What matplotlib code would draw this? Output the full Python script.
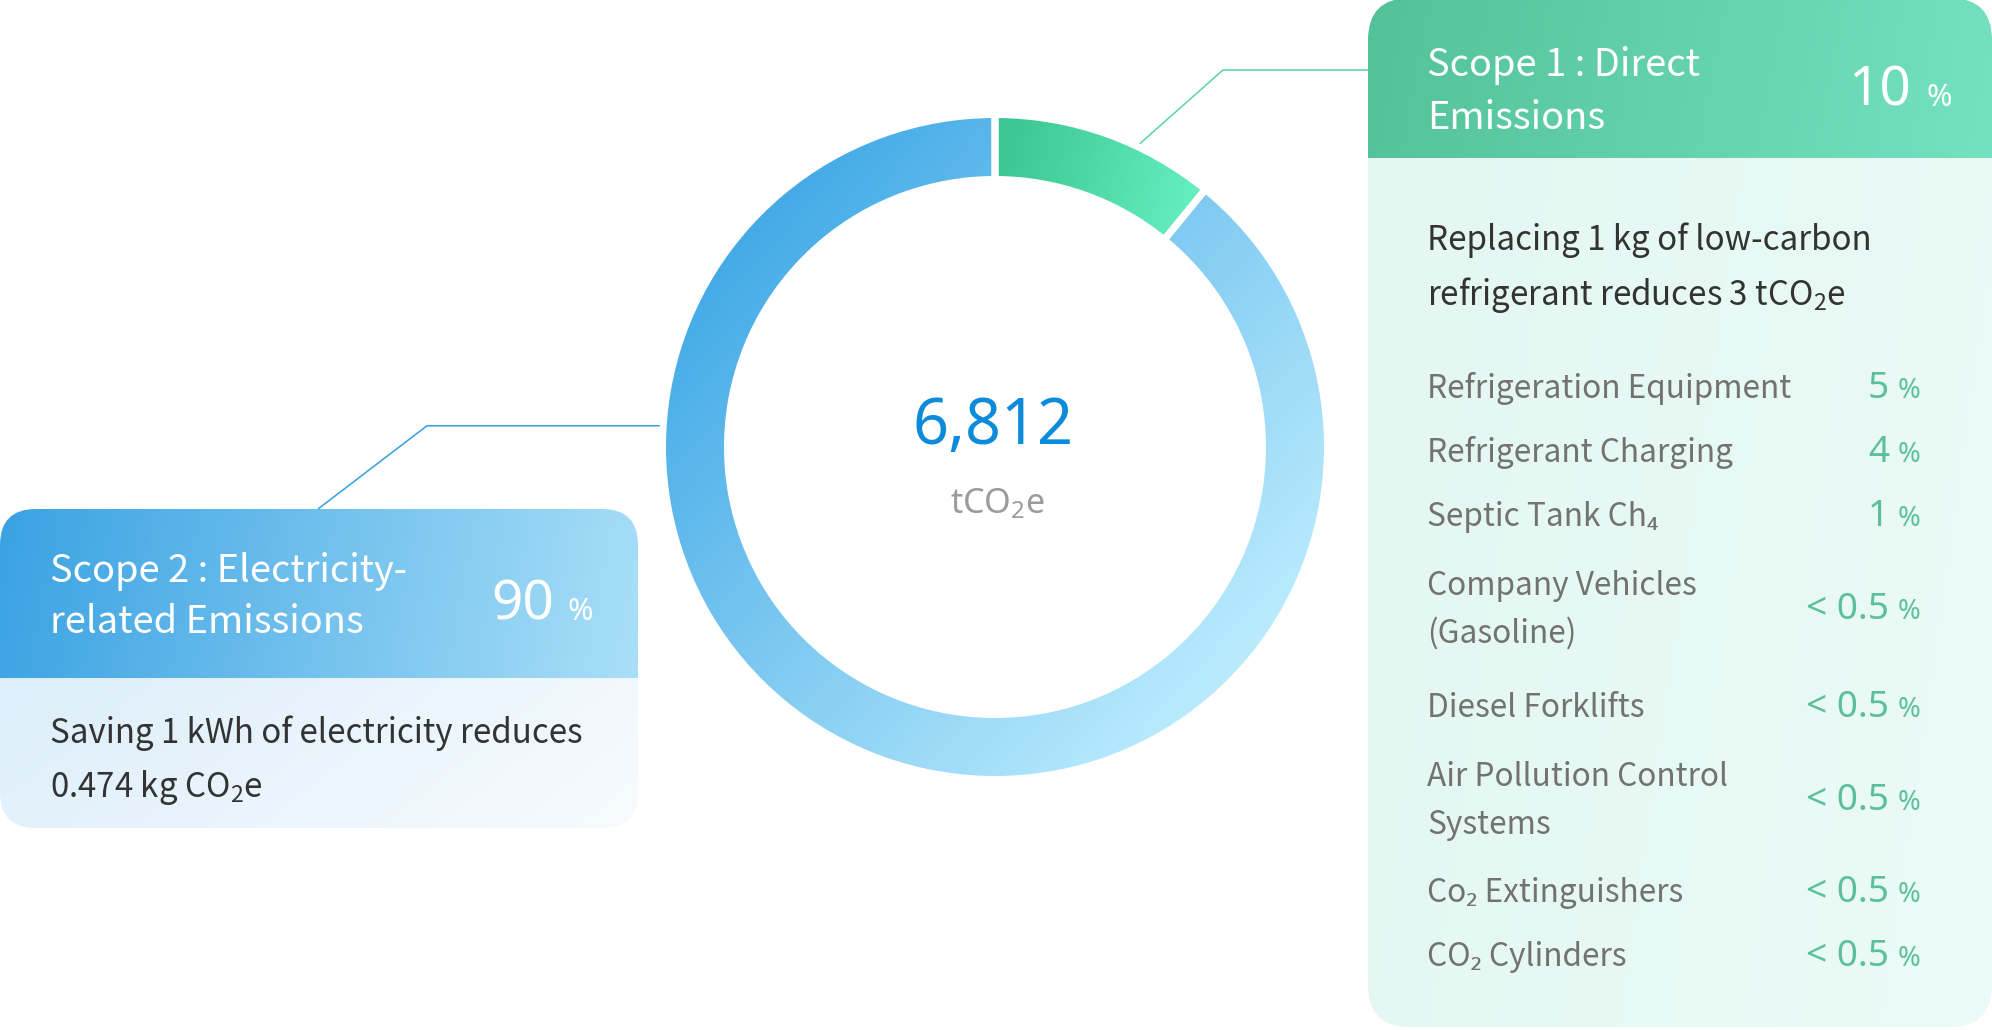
import numpy as np
import matplotlib
matplotlib.use("Agg")
import matplotlib.pyplot as plt
import matplotlib.colors as mcolors
from matplotlib.patches import FancyBboxPatch

# ---------------- data ----------------
ring_labels = ["Scope 1", "Scope 2"]
ring_shares = [10.9, 89.1]          # arc shares read from the ring
scope_titles = ["Scope 1 : Direct\nEmissions", "Scope 2 : Electricity-\nrelated Emissions"]
scope_pct = ["10", "90"]
total_value = "6,812"
total_unit = "tCO$_\\mathregular{2}$e"
scope1_note = ["Replacing 1 kg of low-carbon", "refrigerant reduces 3 tCO$_\\mathregular{2}$e"]
scope2_note = ["Saving 1 kWh of electricity reduces", "0.474 kg CO$_\\mathregular{2}$e"]
item_names = ["Refrigeration Equipment", "Refrigerant Charging", "Septic Tank Ch\u2084",
              "Company Vehicles\n(Gasoline)", "Diesel Forklifts",
              "Air Pollution Control\nSystems", "Co\u2082 Extinguishers", "CO\u2082 Cylinders"]
item_values = ["5", "4", "1", "< 0.5", "< 0.5", "< 0.5", "< 0.5", "< 0.5"]

# ---------------- style ----------------
W, H = 1992, 1030
TXT = ["Noto Sans CJK SC", "Noto Sans", "DejaVu Sans"]
NUM = ["Noto Sans", "DejaVu Sans"]
plt.rcParams["font.family"] = TXT
plt.rcParams["mathtext.fontset"] = "custom"
plt.rcParams["mathtext.rm"] = "Noto Sans CJK SC"
PT = 72 / 100.0  # px -> pt

fig = plt.figure(figsize=(W / 100, H / 100), dpi=100)
fig.patch.set_facecolor("white")
ax = fig.add_axes([0, 0, 1, 1])
ax.set_xlim(0, W)
ax.set_ylim(H, 0)
ax.set_autoscale_on(False)
ax.axis("off")
renderer = fig.canvas.get_renderer()


def fit_size(s, target_px, family, weight="normal", base=20):
    t = ax.text(0, 0, s, fontsize=base, family=family, fontweight=weight)
    w = t.get_window_extent(renderer).width
    t.remove()
    return base * target_px / w


def grad_image(axis, x0, x1, y0, y1, c0, c1, clip, wx=1.0, wy=0.0, z=1):
    cmap = mcolors.LinearSegmentedColormap.from_list("g", [c0, c1])
    u = np.linspace(0, 1, 300)[None, :]
    v = np.linspace(0, 1, 300)[:, None]
    t = wx * u + wy * v
    t = (t - t.min()) / (t.max() - t.min())
    im = axis.imshow(t, cmap=cmap, vmin=0, vmax=1, extent=(x0, x1, y1, y0),
                     origin="upper", aspect="auto", interpolation="bilinear", zorder=z)
    im.set_clip_path(clip)
    return im


def panel(x0, y0, x1, y1, yh, head, body, r, body_dir=(1.0, 0.0)):
    box = FancyBboxPatch((x0, y0), x1 - x0, y1 - y0,
                         boxstyle=f"round,pad=0,rounding_size={r}",
                         fc="none", ec="none", transform=ax.transData)
    ax.add_patch(box)
    grad_image(ax, x0, x1, y0, yh, head[0], head[1], box, 1.0, 0.05)
    grad_image(ax, x0, x1, yh, y1, body[0], body[1], box, body_dir[0], body_dir[1])


# ---------------- panels ----------------
panel(0, 509, 638, 828, 678, ("#3AA2E2", "#A9DFF8"), ("#DCEEFA", "#F7FBFE"), 36, (1.0, 0.3))
panel(1368, -2, 1992, 1027, 158, ("#53C199", "#74E2BF"), ("#E4F7F1", "#EBFBF7"), 42, (1.0, 0.2))

# ---------------- donut ----------------
CX, CY, R, RW = 995, 447, 329, 58
GAP = 7  # px
half = GAP / 2
S = 360
dax = fig.add_axes([(CX - S) / W, (H - CY - S) / H, 2 * S / W, 2 * S / H])
dax.axis("off")
wedges, _ = dax.pie(ring_shares, radius=R + half, startangle=90, counterclock=False,
                    wedgeprops=dict(width=RW + GAP, edgecolor="white",
                                    linewidth=GAP * PT, facecolor="none"))
for w in wedges:
    w.set_zorder(5)

Xg, Yg = np.meshgrid(np.linspace(-S, S, 400), np.linspace(-S, S, 400))
tb = np.clip((1.1 * Xg - Yg) / (2 * 1.49 * R) + 0.5, 0, 1)
cm_blue = mcolors.LinearSegmentedColormap.from_list("b", ["#44ABE7", "#82CBF2", "#BAEBFD"])
imb = dax.imshow(tb, cmap=cm_blue, vmin=0, vmax=1, extent=(-S, S, -S, S), origin="lower",
                 interpolation="bilinear", zorder=2)
imb.set_clip_path(wedges[1])
tg = np.clip((Xg - 0.25 * Yg + 60) / 230, 0, 1)
cm_green = mcolors.LinearSegmentedColormap.from_list("gr", ["#3CC794", "#6CF4C6"])
img = dax.imshow(tg, cmap=cm_green, vmin=0, vmax=1, extent=(-S, S, -S, S), origin="lower",
                 interpolation="bilinear", zorder=2)
img.set_clip_path(wedges[0])
dax.set_xlim(-S, S)
dax.set_ylim(-S, S)
dax.set_aspect("equal")


def ring_point(theta_deg):
    th = np.radians(theta_deg)
    return CX + R * np.sin(th), CY - R * np.cos(th)


gx, gy = ring_point(25)
ax.plot([gx, 1223, 1368], [gy, 70, 70], color="#5FD4AE", lw=1.6 * PT, zorder=3,
        solid_capstyle="butt")
bx, by = ring_point(273.7)
ax.plot([318, 427, bx], [509, by, by], color="#3AA2E0", lw=1.6 * PT, zorder=3,
        solid_capstyle="butt")

# ---------------- sizes fitted to layout widths ----------------
fs_title = 0.5 * (fit_size("Scope 2 : Electricity-", 360, TXT, 500) +
                  fit_size("Scope 1 : Direct", 271, TXT, 500))
fs_note = 0.5 * (fit_size(scope2_note[0], 533, TXT) + fit_size(scope1_note[0], 444, TXT))
fs_item = fit_size(item_names[0], 364, TXT, weight=300)
fs_total = fit_size(total_value, 161, NUM)
fs_unit = fit_size("tCOe", 80, NUM)
fs_big = fit_size("90", 63, NUM, weight=300)
fs_val = fit_size("< 0.5", 83, NUM, weight=300)

# center text
ax.text(993, 444, total_value, family=NUM, fontsize=fs_total,
        color="#0B8BDA", ha="center", va="baseline", zorder=6)
ax.text(997, 513, total_unit, family=NUM, fontsize=fs_unit,
        color="#9B9B9B", ha="center", va="baseline", zorder=6)

# ---------------- left panel text ----------------
t2 = scope_titles[1].split("\n")
ax.text(50, 582, t2[0], fontsize=fs_title, fontweight=500, color="white", va="baseline", zorder=6)
ax.text(50, 633, t2[1], fontsize=fs_title, fontweight=500, color="white", va="baseline", zorder=6)
ax.text(554, 620, scope_pct[1], family=NUM, fontsize=fs_big, fontweight=300, color="white",
        ha="right", va="baseline", zorder=6)
ax.text(593, 620, "%", family=NUM, fontsize=fs_big * 0.56, fontweight=300, color="white",
        ha="right", va="baseline", zorder=6)
ax.text(50, 743, scope2_note[0], fontsize=fs_note, color="#333333", va="baseline", zorder=6)
ax.text(50, 797, scope2_note[1], fontsize=fs_note, color="#333333", va="baseline", zorder=6)

# ---------------- right panel text ----------------
t1 = scope_titles[0].split("\n")
ax.text(1427, 76, t1[0], fontsize=fs_title, fontweight=500, color="white", va="baseline", zorder=6)
ax.text(1427, 129, t1[1], fontsize=fs_title, fontweight=500, color="white", va="baseline", zorder=6)
ax.text(1911, 106, scope_pct[0], family=NUM, fontsize=fs_big, fontweight=300, color="white",
        ha="right", va="baseline", zorder=6)
ax.text(1952, 106, "%", family=NUM, fontsize=fs_big * 0.56, fontweight=300, color="white",
        ha="right", va="baseline", zorder=6)
ax.text(1427, 250, scope1_note[0], fontsize=fs_note, color="#333333", va="baseline", zorder=6)
ax.text(1427, 305, scope1_note[1], fontsize=fs_note, color="#333333", va="baseline", zorder=6)

name_base = [398, 462, 526, 595, 717, 786, 902, 966]
LINE = 48
for name, val, yb in zip(item_names, item_values, name_base):
    lines = name.split("\n")
    for k, ln in enumerate(lines):
        ax.text(1427, yb + k * LINE, ln, fontsize=fs_item, fontweight=300,
                color="#727272", va="baseline", zorder=6)
    yv = yb + (len(lines) - 1) * LINE / 2
    ax.text(1920, yv, "%", family=NUM, fontsize=fs_val * 0.74, fontweight=300, color="#5CBF9C",
            ha="right", va="baseline", zorder=6)
    ax.text(1889, yv, val, family=NUM, fontsize=fs_val, fontweight=300, color="#5CBF9C",
            ha="right", va="baseline", zorder=6)

ax.set_xlim(0, W)
ax.set_ylim(H, 0)
fig.savefig("out.png", dpi=100, facecolor="white")
